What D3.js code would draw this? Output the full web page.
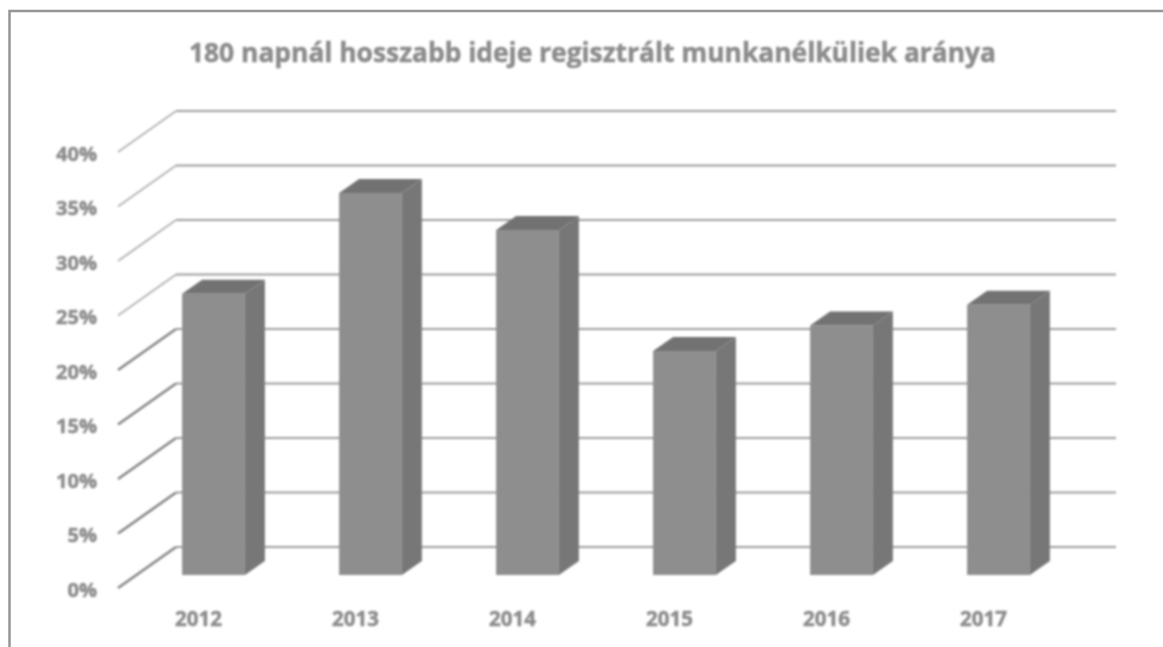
<!DOCTYPE html>
<html>
<head>
<meta charset="utf-8">
<script src="https://cdn.jsdelivr.net/npm/d3@7"></script>
<style>
  html, body { margin: 0; padding: 0; background: #fff; }
  text { font-family: "Open Sans", "Liberation Sans", sans-serif; font-weight: 700; fill: #8c8c8c; stroke: #8c8c8c; stroke-width: 0.5px; }
</style>
</head>
<body>
<div id="chart"></div>
<script>
var chartTitle = "180 napnál hosszabb ideje regisztrált munkanélküliek aránya";
var years = ["2012", "2013", "2014", "2015", "2016", "2017"];
var shares = [25.8, 35.05, 31.65, 20.55, 22.9, 24.8];
var gridTicks = [0, 5, 10, 15, 20, 25, 30, 35, 40];

var svgWidth = 1163;
var svgHeight = 647;

// offset of the back wall from the front of the 3D box
var depth = { x: 58, y: -41 };
var barDepth = { x: 20, y: -14 };

var svg = d3.select("#chart")
  .append("svg")
  .attr("width", svgWidth)
  .attr("height", svgHeight);

var defs = svg.append("defs");
defs.append("filter").attr("id", "soft")
  .append("feGaussianBlur").attr("stdDeviation", 0.8);

// y scale of the front plane of the box
var yFront = d3.scaleLinear().domain([0, 40]).range([588, 152]);
// y scale of the plane the bars stand in
var yBar = d3.scaleLinear().domain([0, 40]).range([575, 139]);
var x = d3.scaleBand().domain(years).range([135, 1077]).paddingInner(0.6).paddingOuter(0.3);

// scan frame
var frame = svg.append("g").attr("fill", "none").attr("stroke", "#959595").attr("stroke-width", 2.5);
frame.append("path").attr("d", d3.line()([[9.5, 647], [9.5, 11], [1163, 11]]));

var plot = svg.append("g").attr("filter", "url(#soft)");
var gridLine = d3.line();

// gridlines on the back wall
plot.append("g").selectAll("path")
  .data(gridTicks)
  .enter()
  .append("path")
  .attr("fill", "none")
  .attr("stroke", "#9c9c9c")
  .attr("stroke-width", 2)
  .attr("d", d => gridLine([
    [118 + depth.x, yFront(d) + depth.y],
    [1116, yFront(d) + depth.y]
  ]));

// gridlines on the side wall, the lower ones print darker
plot.append("g").selectAll("path")
  .data(gridTicks)
  .enter()
  .append("path")
  .attr("fill", "none")
  .attr("stroke", d => d <= 20 ? "#858585" : "#b4b4b4")
  .attr("stroke-width", d => d <= 20 ? 2.6 : 2)
  .attr("d", d => gridLine([
    [118, yFront(d)],
    [118 + depth.x, yFront(d) + depth.y]
  ]));

var bars = plot.append("g").selectAll("g")
  .data(years)
  .enter()
  .append("g");

// top face
bars.append("path")
  .attr("fill", "#727272")
  .attr("d", function(d, i) {
    var x0 = x(d), x1 = x0 + x.bandwidth(), y0 = yBar(shares[i]);
    return gridLine([[x0, y0], [x0 + barDepth.x, y0 + barDepth.y], [x1 + barDepth.x, y0 + barDepth.y], [x1, y0]]) + "Z";
  });

// side face
bars.append("path")
  .attr("fill", "#777777")
  .attr("d", function(d, i) {
    var x1 = x(d) + x.bandwidth(), y0 = yBar(shares[i]), y1 = yBar(0);
    return gridLine([[x1, y0], [x1 + barDepth.x, y0 + barDepth.y], [x1 + barDepth.x, y1 + barDepth.y], [x1, y1]]) + "Z";
  });

// front face
bars.append("rect")
  .attr("fill", "#8e8e8e")
  .attr("x", d => x(d))
  .attr("y", (d, i) => yBar(shares[i]))
  .attr("width", x.bandwidth())
  .attr("height", (d, i) => yBar(0) - yBar(shares[i]));

// axes
var yAxis = svg.append("g")
  .attr("transform", "translate(97, 1)")
  .attr("filter", "url(#soft)")
  .call(d3.axisLeft(yFront).tickValues(gridTicks).tickSize(0).tickPadding(0).tickFormat(d => d + "%"));
yAxis.select(".domain").remove();
yAxis.selectAll("text").style("font-size", "20px").style("font-family", null).attr("dy", "0.35em");

var xAxis = svg.append("g")
  .attr("transform", "translate(-15, 611)")
  .attr("filter", "url(#soft)")
  .call(d3.axisBottom(x).tickSize(0).tickPadding(0));
xAxis.select(".domain").remove();
xAxis.selectAll("text").style("font-size", "20.5px").style("font-family", null);

svg.append("text")
  .attr("x", 592.5)
  .attr("y", 62)
  .attr("text-anchor", "middle")
  .attr("filter", "url(#soft)")
  .style("font-size", "26.4px")
  .text(chartTitle);
</script>
</body>
</html>
